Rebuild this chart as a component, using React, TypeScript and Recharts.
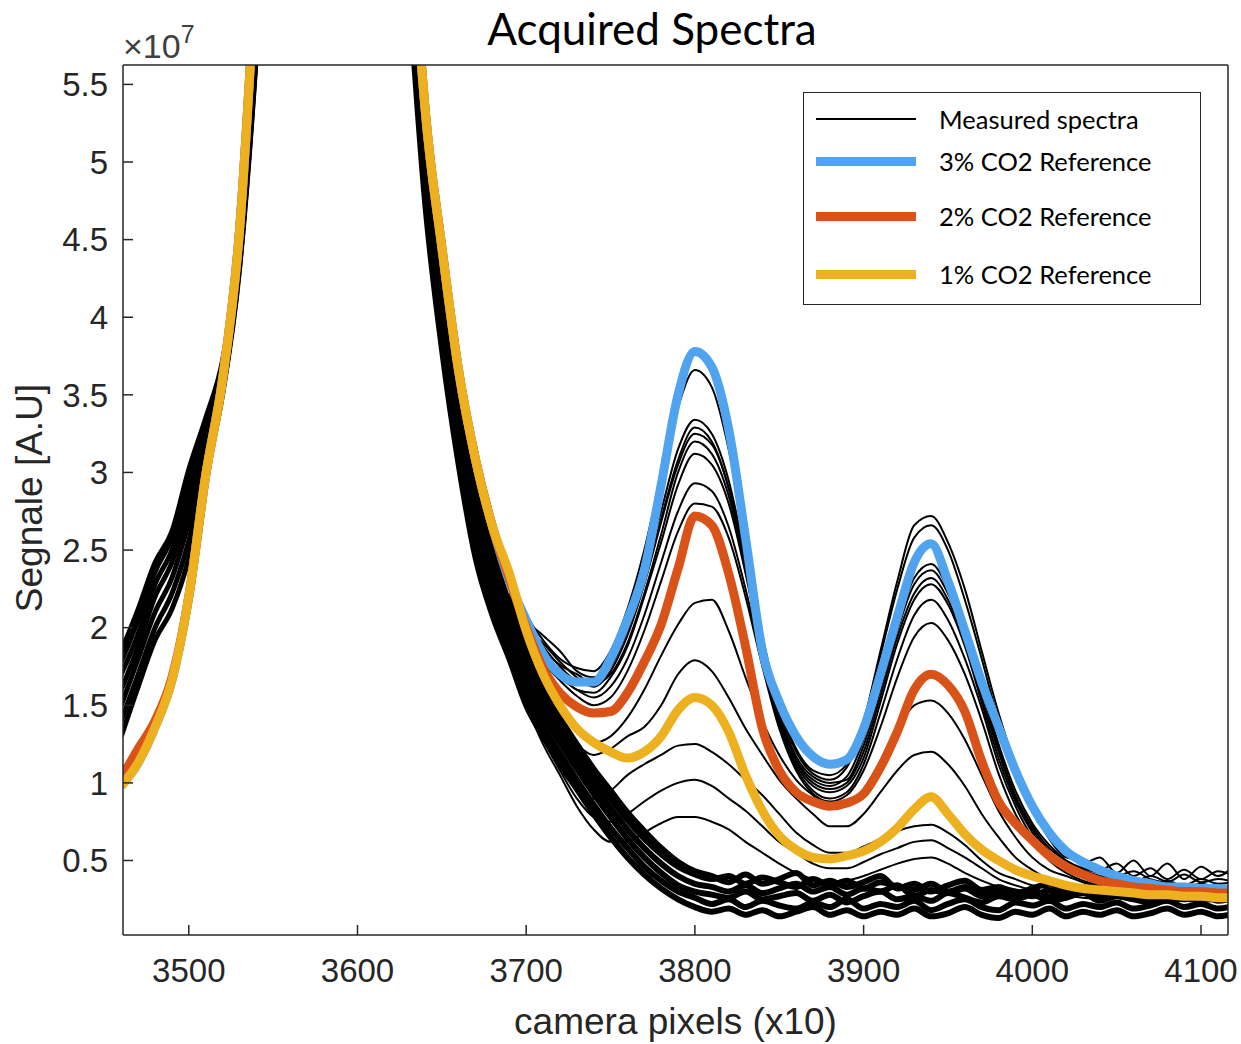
import React from "react";
import { LineChart, Line, XAxis, YAxis, Legend, Label } from "recharts";

// camera pixels (x10)
const wingX = [3460, 3470, 3480, 3490, 3500, 3510, 3520, 3530, 3540, 3550];
const bandX = [
  3630, 3640, 3650, 3660, 3670, 3680, 3690, 3700, 3710, 3720, 3730, 3740, 3750, 3760, 3770, 3780, 3790,
  3800, 3810, 3820, 3830, 3840, 3850, 3860, 3870, 3880, 3890, 3900, 3910, 3920, 3930, 3940, 3950, 3960,
  3970, 3980, 3990, 4000, 4010, 4020, 4030, 4040, 4050, 4060, 4070, 4080, 4090, 4100, 4110, 4120,
];
const peakX = bandX.slice(6);
const refX = [3460, 3470, 3480, 3490, 3500, 3510, 3520, 3530, 3540, 3550, 3560, 3570, 3580, 3590, 3600, 3610, 3620, ...bandX];

const xTicks = [3500, 3600, 3700, 3800, 3900, 4000, 4100];
const yTicks = [0.5, 1, 1.5, 2, 2.5, 3, 3.5, 4, 4.5, 5, 5.5];

// reference spectra (x1e7)
const ref3 = [
  0.98, 1.13, 1.36, 1.66, 2.2, 2.98, 3.6, 4.55, 6.3, 8.4, 10.2, 11.6, 12.5, 12.8, 12.6, 11.8, 10.2, 7.0, 5.35, 4.45, 3.65, 3.08, 2.65,
  2.3, 2.05, 1.83, 1.7, 1.65, 1.65, 1.8, 2.05, 2.37, 2.92, 3.5, 3.78,
  3.68, 3.28, 2.58, 1.85, 1.52, 1.3, 1.17, 1.12, 1.15, 1.35,
  1.7, 2.07, 2.42, 2.54, 2.3, 1.98, 1.65, 1.36, 1.08, 0.85,
  0.68, 0.56, 0.49, 0.44, 0.4, 0.37, 0.35, 0.33, 0.33, 0.32, 0.32, 0.31,
];
const ref2 = [
  1.03, 1.22, 1.4, 1.68, 2.2, 2.98, 3.6, 4.55, 6.3, 8.4, 10.2, 11.6, 12.5, 12.8, 12.6, 11.8, 10.2, 7.0, 5.35, 4.45, 3.65, 3.08, 2.65,
  2.32, 2.0, 1.74, 1.58, 1.49, 1.45, 1.46, 1.58, 1.78, 2.02, 2.38, 2.72,
  2.66, 2.35, 1.88, 1.35, 1.08, 0.94, 0.88, 0.85, 0.87, 0.93,
  1.1, 1.33, 1.6, 1.7, 1.63, 1.46, 1.14, 0.88, 0.74, 0.63,
  0.53, 0.46, 0.41, 0.37, 0.35, 0.33, 0.32, 0.31, 0.3, 0.3, 0.29, 0.29,
];
const ref1 = [
  0.98, 1.13, 1.36, 1.66, 2.2, 2.98, 3.6, 4.55, 6.3, 8.4, 10.2, 11.6, 12.5, 12.8, 12.6, 11.8, 10.2, 7.0, 5.35, 4.45, 3.65, 3.08, 2.65,
  2.35, 1.98, 1.7, 1.5, 1.35, 1.26, 1.2, 1.16, 1.2, 1.3, 1.47, 1.55,
  1.5, 1.33, 1.05, 0.82, 0.66, 0.57, 0.52, 0.51, 0.53, 0.56,
  0.62, 0.71, 0.83, 0.91, 0.8, 0.67, 0.57, 0.5, 0.44, 0.4,
  0.37, 0.34, 0.32, 0.31, 0.3, 0.29, 0.28, 0.28, 0.27, 0.27, 0.26, 0.26,
];

// measured spectra, left wing (goes off scale above 3540)
const wing1 = [1.85, 2.12, 2.42, 2.62, 3.02, 3.35, 3.72, 4.45, 5.8, 7.6];
const wing2 = [1.78, 2.05, 2.36, 2.58, 2.95, 3.3, 3.68, 4.42, 5.78, 7.6];
const wing3 = [1.7, 1.96, 2.28, 2.5, 2.86, 3.24, 3.64, 4.4, 5.76, 7.6];
const wing4 = [1.6, 1.88, 2.2, 2.42, 2.78, 3.18, 3.6, 4.38, 5.74, 7.6];
const wing5 = [1.5, 1.8, 2.1, 2.32, 2.68, 3.1, 3.56, 4.35, 5.72, 7.6];
const wing6 = [1.4, 1.7, 2.0, 2.22, 2.56, 3.04, 3.52, 4.32, 5.7, 7.6];
const wing7 = [1.3, 1.62, 1.92, 2.12, 2.45, 2.98, 3.5, 4.3, 5.68, 7.6];

// measured spectra without CO2 bands (descending tail + baseline)
const base1 = [
  6.2, 4.75, 3.8, 3.05, 2.45, 2.08, 1.8, 1.5, 1.3, 1.12, 0.96, 0.8, 0.65, 0.52, 0.41, 0.32, 0.25, 0.2,
  0.17, 0.19, 0.15, 0.18, 0.14, 0.17, 0.2, 0.15, 0.18, 0.14, 0.17, 0.15, 0.19, 0.14, 0.16, 0.2,
  0.15, 0.13, 0.17, 0.15, 0.19, 0.14, 0.17, 0.15, 0.18, 0.14, 0.16, 0.19, 0.15, 0.17, 0.14, 0.16,
];
const base2 = [
  6.3, 4.85, 3.9, 3.15, 2.55, 2.15, 1.87, 1.58, 1.37, 1.19, 1.02, 0.86, 0.71, 0.58, 0.46, 0.37, 0.3, 0.26,
  0.22, 0.25, 0.2, 0.24, 0.21, 0.19, 0.23, 0.2, 0.25, 0.19, 0.22, 0.2, 0.24, 0.18, 0.22, 0.25,
  0.2, 0.18, 0.23, 0.21, 0.24, 0.19, 0.22, 0.2, 0.23, 0.19, 0.21, 0.24, 0.2, 0.22, 0.19, 0.21,
];
const base3 = [
  6.4, 4.95, 4.0, 3.25, 2.65, 2.24, 1.95, 1.66, 1.44, 1.26, 1.09, 0.93, 0.78, 0.64, 0.52, 0.42, 0.34, 0.3,
  0.28, 0.26, 0.3, 0.25, 0.27, 0.29, 0.24, 0.28, 0.23, 0.27, 0.3, 0.25, 0.27, 0.24, 0.29, 0.26,
  0.23, 0.27, 0.25, 0.28, 0.24, 0.26, 0.29, 0.24, 0.27, 0.25, 0.23, 0.27, 0.25, 0.28, 0.24, 0.26,
];
const base4 = [
  6.5, 5.05, 4.1, 3.35, 2.75, 2.32, 2.02, 1.73, 1.5, 1.32, 1.15, 0.99, 0.84, 0.7, 0.58, 0.48, 0.4, 0.35,
  0.33, 0.3, 0.34, 0.29, 0.32, 0.35, 0.3, 0.33, 0.28, 0.32, 0.3, 0.34, 0.27, 0.31, 0.29, 0.32,
  0.27, 0.3, 0.28, 0.31, 0.27, 0.3, 0.32, 0.28, 0.3, 0.27, 0.29, 0.31, 0.27, 0.29, 0.26, 0.28,
];
const base5 = [
  6.6, 5.15, 4.2, 3.45, 2.85, 2.4, 2.08, 1.8, 1.56, 1.37, 1.2, 1.04, 0.9, 0.76, 0.64, 0.54, 0.46, 0.41,
  0.38, 0.4, 0.35, 0.39, 0.36, 0.33, 0.38, 0.34, 0.37, 0.32, 0.36, 0.33, 0.31, 0.35, 0.3, 0.33,
  0.29, 0.32, 0.3, 0.27, 0.31, 0.28, 0.3, 0.26, 0.29, 0.27, 0.3, 0.26, 0.28, 0.25, 0.27, 0.26,
];
const base6 = [
  6.8, 5.2, 4.3, 3.55, 2.95, 2.5, 2.15, 1.86, 1.62, 1.42, 1.25, 1.09, 0.95, 0.81, 0.69, 0.58, 0.49, 0.43,
  0.4, 0.36, 0.41, 0.35, 0.38, 0.42, 0.34, 0.37, 0.33, 0.36, 0.4, 0.32, 0.35, 0.3, 0.34, 0.37,
  0.31, 0.33, 0.29, 0.32, 0.35, 0.3, 0.33, 0.28, 0.31, 0.34, 0.29, 0.32, 0.28, 0.3, 0.33, 0.29,
];

// measured spectra with CO2 bands, from 3690 on
const meas1 = [
  2.28, 2.08, 1.92, 1.8, 1.74, 1.72, 1.85, 2.12, 2.5, 2.98, 3.42, 3.66,
  3.55, 3.15, 2.55, 1.95, 1.5, 1.22, 1.08, 1.05, 1.12, 1.4,
  1.85, 2.3, 2.66, 2.72, 2.55, 2.25, 1.85, 1.45, 1.12, 0.88,
  0.66, 0.55, 0.48, 0.52, 0.42, 0.5, 0.4, 0.48, 0.38, 0.46, 0.4, 0.47,
];
const meas2 = [
  2.25, 2.05, 1.95, 1.85, 1.72, 1.68, 1.78, 2.0, 2.35, 2.75, 3.15, 3.34,
  3.25, 2.95, 2.45, 1.9, 1.48, 1.2, 1.06, 1.02, 1.1, 1.38,
  1.82, 2.25, 2.58, 2.66, 2.5, 2.18, 1.8, 1.4, 1.08, 0.84,
  0.64, 0.52, 0.5, 0.44, 0.48, 0.4, 0.45, 0.38, 0.44, 0.38, 0.43, 0.4,
];
const meas3 = [
  2.22, 2.02, 1.88, 1.75, 1.66, 1.65, 1.75, 1.98, 2.3, 2.7, 3.08, 3.29,
  3.2, 2.9, 2.4, 1.85, 1.42, 1.15, 1.02, 0.98, 1.04, 1.28,
  1.65, 2.02, 2.32, 2.41, 2.25, 1.95, 1.6, 1.22, 0.92, 0.72,
  0.58, 0.5, 0.45, 0.42, 0.4, 0.43, 0.38, 0.36, 0.41, 0.36, 0.38, 0.36,
];
const meas4 = [
  2.2, 2.0, 1.9, 1.78, 1.68, 1.62, 1.72, 1.95, 2.28, 2.68, 3.05, 3.25,
  3.18, 2.9, 2.42, 1.88, 1.45, 1.17, 1.04, 1.0, 1.02, 1.24,
  1.6, 1.98, 2.28, 2.37, 2.22, 1.95, 1.62, 1.25, 0.95, 0.74,
  0.6, 0.5, 0.44, 0.4, 0.38, 0.36, 0.4, 0.36, 0.34, 0.38, 0.35, 0.36,
];
const meas5 = [
  2.18, 1.98, 1.86, 1.76, 1.7, 1.64, 1.7, 1.9, 2.22, 2.6, 3.0, 3.2,
  3.12, 2.85, 2.38, 1.85, 1.42, 1.14, 1.0, 0.96, 1.0, 1.2,
  1.56, 1.94, 2.22, 2.32, 2.18, 1.9, 1.55, 1.2, 0.9, 0.7,
  0.56, 0.46, 0.42, 0.38, 0.36, 0.38, 0.34, 0.37, 0.33, 0.35, 0.33, 0.34,
];
const meas6 = [
  2.2, 1.98, 1.82, 1.7, 1.6, 1.58, 1.68, 1.88, 2.2, 2.55, 2.92, 3.12,
  3.05, 2.8, 2.35, 1.82, 1.4, 1.12, 0.98, 0.94, 0.98, 1.16,
  1.52, 1.9, 2.18, 2.28, 2.15, 1.88, 1.52, 1.16, 0.88, 0.68,
  0.54, 0.45, 0.4, 0.36, 0.34, 0.36, 0.33, 0.35, 0.32, 0.34, 0.32, 0.33,
];
const meas7 = [
  2.18, 1.96, 1.8, 1.68, 1.6, 1.55, 1.62, 1.8, 2.08, 2.42, 2.75, 2.93,
  2.88, 2.65, 2.25, 1.78, 1.38, 1.1, 0.95, 0.9, 0.94, 1.12,
  1.45, 1.8, 2.08, 2.18, 2.05, 1.8, 1.48, 1.12, 0.85, 0.65,
  0.52, 0.44, 0.39, 0.35, 0.33, 0.35, 0.32, 0.34, 0.31, 0.33, 0.31, 0.32,
];
const meas8 = [
  2.15, 1.94, 1.78, 1.66, 1.56, 1.5, 1.55, 1.72, 1.98, 2.3, 2.62, 2.8,
  2.78, 2.58, 2.2, 1.75, 1.35, 1.08, 0.93, 0.88, 0.92, 1.08,
  1.36, 1.68, 1.94, 2.03, 1.92, 1.7, 1.4, 1.06, 0.8, 0.62,
  0.5, 0.42, 0.37, 0.34, 0.32, 0.33, 0.3, 0.32, 0.3, 0.31, 0.29, 0.3,
];
const meas9 = [
  2.1, 1.85, 1.65, 1.5, 1.36, 1.26, 1.3, 1.42, 1.6, 1.82, 2.02, 2.16,
  2.18, 1.98, 1.68, 1.4, 1.18, 1.02, 0.92, 0.85, 0.86, 0.96,
  1.14, 1.34, 1.5, 1.53, 1.45, 1.28, 1.05, 0.82, 0.65, 0.52,
  0.44, 0.4, 0.36, 0.33, 0.31, 0.32, 0.3, 0.31, 0.29, 0.3, 0.28, 0.29,
];
const meas10 = [
  2.0, 1.75, 1.55, 1.38, 1.25, 1.18, 1.22, 1.3, 1.36, 1.5, 1.7, 1.79,
  1.72, 1.55, 1.35, 1.18, 1.02, 0.9, 0.8, 0.72, 0.72, 0.8,
  0.94, 1.08, 1.18, 1.2, 1.12, 0.98, 0.8, 0.65, 0.52, 0.44,
  0.38, 0.35, 0.32, 0.3, 0.29, 0.3, 0.28, 0.29, 0.27, 0.28, 0.27, 0.28,
];
const meas11 = [
  1.85, 1.58, 1.35, 1.15, 0.98, 0.9, 0.95, 1.05, 1.12, 1.18, 1.24, 1.25,
  1.2, 1.12, 1.02, 0.92, 0.8, 0.68, 0.6, 0.55, 0.55, 0.59,
  0.64, 0.69, 0.72, 0.73, 0.68, 0.6, 0.5, 0.42, 0.38, 0.34,
  0.32, 0.3, 0.29, 0.28, 0.27, 0.28, 0.26, 0.27, 0.25, 0.26, 0.25, 0.26,
];
const meas12 = [
  1.8, 1.52, 1.28, 1.08, 0.9, 0.78, 0.75, 0.8, 0.88, 0.95, 1.0, 1.02,
  0.98, 0.9, 0.82, 0.72, 0.62, 0.55, 0.48, 0.45, 0.45, 0.49,
  0.54, 0.58, 0.62, 0.63, 0.58, 0.52, 0.45, 0.38, 0.34, 0.31,
  0.3, 0.29, 0.28, 0.27, 0.26, 0.27, 0.25, 0.26, 0.24, 0.25, 0.24, 0.25,
];
const meas13 = [
  1.78, 1.5, 1.25, 1.05, 0.85, 0.7, 0.62, 0.62, 0.68, 0.74, 0.78, 0.78,
  0.75, 0.7, 0.62, 0.55, 0.48, 0.42, 0.38, 0.36, 0.37, 0.4,
  0.44, 0.48, 0.51, 0.52, 0.48, 0.42, 0.37, 0.33, 0.3, 0.28,
  0.27, 0.27, 0.26, 0.25, 0.26, 0.24, 0.25, 0.23, 0.24, 0.23, 0.24, 0.23,
];

const wingSpectra = [wing1, wing2, wing3, wing4, wing5, wing6, wing7];
const baseSpectra = [base1, base2, base3, base4, base5, base6];
const peakSpectra = [meas1, meas2, meas3, meas4, meas5, meas6, meas7, meas8, meas9, meas10, meas11, meas12, meas13];

const legendItems = [
  { label: "Measured spectra", color: "#000000", width: 2, y: 26 },
  { label: "3% CO2 Reference", color: "#4FA3EF", width: 9, y: 68 },
  { label: "2% CO2 Reference", color: "#D95319", width: 9, y: 123 },
  { label: "1% CO2 Reference", color: "#EDB120", width: 9, y: 181 },
];

const AXIS = "#262626";
const MATLAB_FONT = "'Liberation Sans', Arial, sans-serif";
const OFFICE_FONT = "Lato, 'Open Sans', sans-serif";

const pts = (xs: number[], ys: number[]) => xs.map((x, i) => ({ x, y: ys[i] }));

function LegendBox() {
  return (
    <div
      style={{
        width: 396,
        height: 211,
        border: `1.5px solid ${AXIS}`,
        background: "#fff",
        position: "relative",
        fontFamily: OFFICE_FONT,
        fontSize: 25.5,
        color: "#000",
      }}
    >
      {legendItems.map((it) => (
        <div key={it.label} style={{ position: "absolute", left: 0, top: it.y - 16, height: 32, width: "100%" }}>
          <div
            style={{
              position: "absolute",
              left: 12,
              top: 16 - it.width / 2,
              width: 100,
              height: it.width,
              background: it.color,
            }}
          />
          <span style={{ position: "absolute", left: 135, top: 0, lineHeight: "32px", whiteSpace: "nowrap" }}>
            {it.label}
          </span>
        </div>
      ))}
    </div>
  );
}

function XTitle({ viewBox }: any) {
  const cx = viewBox.x + viewBox.width / 2;
  return (
    <text x={cx} y={viewBox.y + 99} textAnchor="middle" fontSize={37} fontFamily={MATLAB_FONT} fill={AXIS}>
      camera pixels (x10)
    </text>
  );
}

function YTitle({ viewBox }: any) {
  const cy = viewBox.y + viewBox.height / 2 - 2;
  const x = 42;
  return (
    <text
      x={x}
      y={cy}
      transform={`rotate(-90, ${x}, ${cy})`}
      textAnchor="middle"
      fontSize={37}
      fontFamily={MATLAB_FONT}
      fill={AXIS}
    >
      Segnale [A.U]
    </text>
  );
}

export default function App() {
  return (
    <div style={{ position: "absolute", left: 0, top: 0, width: 1241, height: 1044, background: "#fff" }}>
      <LineChart width={1241} height={1044} margin={{ top: 64, right: 12, bottom: 9, left: 23 }}>
        <XAxis
          xAxisId="b"
          type="number"
          dataKey="x"
          domain={[3461, 4116]}
          allowDataOverflow
          ticks={xTicks}
          interval={0}
          height={100}
          tickSize={-10}
          tickMargin={34}
          stroke={AXIS}
          strokeWidth={1.5}
          tick={{ fontSize: 33, fill: AXIS, fontFamily: MATLAB_FONT }}
        >
          <Label content={XTitle} />
        </XAxis>
        <XAxis
          xAxisId="t"
          orientation="top"
          type="number"
          dataKey="x"
          domain={[3461, 4116]}
          allowDataOverflow
          ticks={xTicks}
          interval={0}
          height={1}
          tickSize={-10}
          tick={false}
          stroke={AXIS}
          strokeWidth={1.5}
        />
        <YAxis
          yAxisId="l"
          type="number"
          domain={[0.02, 5.625]}
          allowDataOverflow
          ticks={yTicks}
          interval={0}
          width={100}
          tickSize={-10}
          tickMargin={25}
          stroke={AXIS}
          strokeWidth={1.5}
          tickFormatter={(v: number) => String(v)}
          tick={{ fontSize: 33, fill: AXIS, fontFamily: MATLAB_FONT }}
        >
          <Label content={YTitle} />
        </YAxis>
        <YAxis
          yAxisId="r"
          orientation="right"
          type="number"
          domain={[0.02, 5.625]}
          allowDataOverflow
          ticks={yTicks}
          interval={0}
          width={1}
          tickSize={-10}
          tick={false}
          stroke={AXIS}
          strokeWidth={1.5}
        />

        {wingSpectra.map((ys, i) => (
          <Line
            key={`w${i}`}
            xAxisId="b"
            yAxisId="l"
            data={pts(wingX, ys)}
            dataKey="y"
            type="monotone"
            stroke="#000"
            strokeWidth={5}
            dot={false}
            legendType="none"
            isAnimationActive={false}
          />
        ))}
        {baseSpectra.map((ys, i) => (
          <Line
            key={`b${i}`}
            xAxisId="b"
            yAxisId="l"
            data={pts(bandX, ys)}
            dataKey="y"
            type="monotone"
            stroke="#000"
            strokeWidth={6}
            dot={false}
            legendType="none"
            isAnimationActive={false}
          />
        ))}
        {peakSpectra.map((ys, i) => (
          <Line
            key={`m${i}`}
            xAxisId="b"
            yAxisId="l"
            data={pts(peakX, ys)}
            dataKey="y"
            type="monotone"
            stroke="#000"
            strokeWidth={2}
            dot={false}
            legendType="none"
            isAnimationActive={false}
          />
        ))}
        <Line xAxisId="b" yAxisId="l" data={pts(refX, ref3)} dataKey="y" type="monotone" stroke="#4FA3EF" strokeWidth={9} dot={false} isAnimationActive={false} />
        <Line xAxisId="b" yAxisId="l" data={pts(refX, ref2)} dataKey="y" type="monotone" stroke="#D95319" strokeWidth={9} dot={false} isAnimationActive={false} />
        <Line xAxisId="b" yAxisId="l" data={pts(refX, ref1)} dataKey="y" type="monotone" stroke="#EDB120" strokeWidth={9} dot={false} isAnimationActive={false} />

        <Legend
          layout="vertical"
          align="center"
          verticalAlign="middle"
          wrapperStyle={{ position: "absolute", left: 803, top: 92, width: 399, height: 214 }}
          content={() => <LegendBox />}
        />
      </LineChart>

      <div
        style={{
          position: "absolute",
          left: 466,
          top: 0,
          width: 372,
          height: 63,
          background: "#fff",
          textAlign: "center",
          fontFamily: OFFICE_FONT,
          fontSize: 44,
          lineHeight: "56px",
          color: "#000",
        }}
      >
        Acquired Spectra
      </div>
      <div
        style={{
          position: "absolute",
          left: 123,
          top: 26,
          fontFamily: MATLAB_FONT,
          fontSize: 34,
          lineHeight: "40px",
          color: "#404040",
          whiteSpace: "nowrap",
        }}
      >
        ×10<sup style={{ fontSize: 25, verticalAlign: "top", position: "relative", top: -12 }}>7</sup>
      </div>
    </div>
  );
}
